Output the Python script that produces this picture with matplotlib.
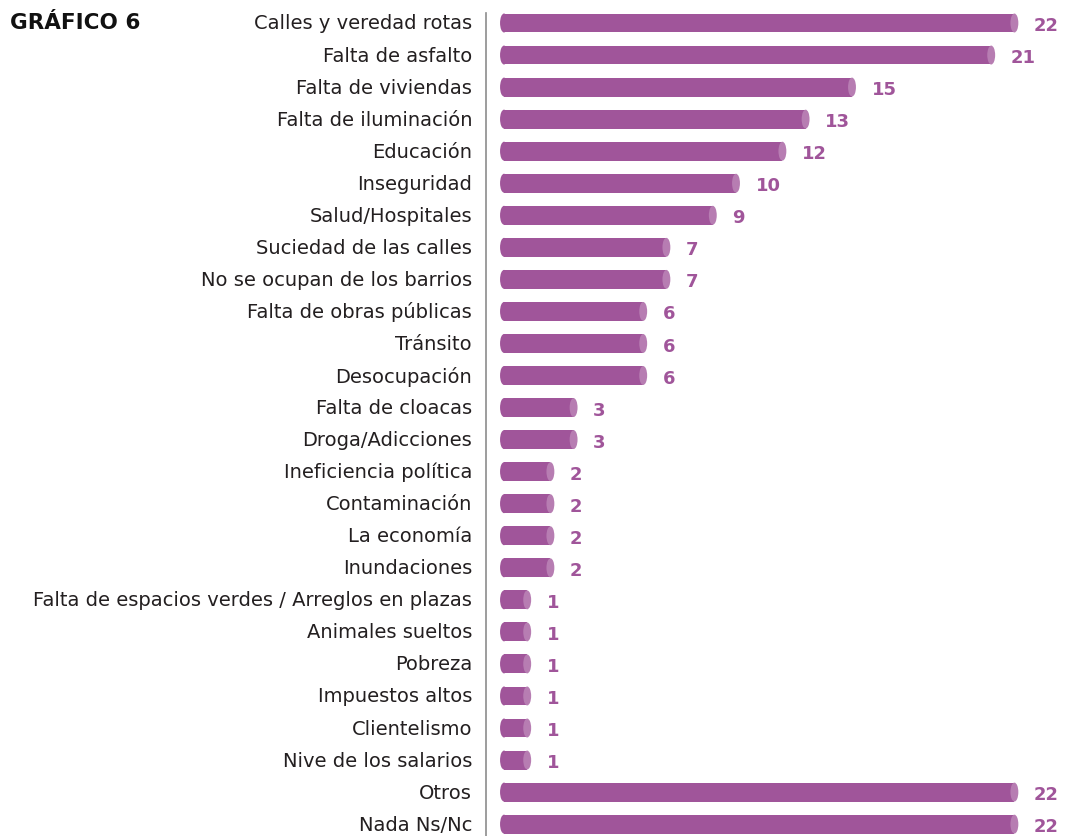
import matplotlib
matplotlib.use('Agg')
import matplotlib.pyplot as plt
from matplotlib.patches import Ellipse

plt.rcParams['font.family'] = ['DejaVu Sans']

# categories and values (%), top to bottom
categories = [
    'Calles y veredad rotas', 'Falta de asfalto', 'Falta de viviendas',
    'Falta de iluminación', 'Educación', 'Inseguridad', 'Salud/Hospitales',
    'Suciedad de las calles', 'No se ocupan de los barrios',
    'Falta de obras públicas', 'Tránsito', 'Desocupación', 'Falta de cloacas',
    'Droga/Adicciones', 'Ineficiencia política', 'Contaminación',
    'La economía', 'Inundaciones',
    'Falta de espacios verdes / Arreglos en plazas', 'Animales sueltos',
    'Pobreza', 'Impuestos altos', 'Clientelismo', 'Nive de los salarios',
    'Otros', 'Nada Ns/Nc',
]
values = [22, 21, 15, 13, 12, 10, 9, 7, 7, 6, 6, 6, 3, 3, 2, 2, 2, 2,
          1, 1, 1, 1, 1, 1, 22, 22]

bar_color = '#a0559a'
cap_color = '#b77db2'
text_color = '#231f20'

W, H = 1065, 837
fig = plt.figure(figsize=(W / 100, H / 100), dpi=100)
ax = fig.add_axes([486 / W, 0, 1 - 486 / W, 1 - 14 / H])

bar_h = 0.59
cap_w = 0.34
ypos = list(range(len(categories)))

ax.barh(ypos, values, height=bar_h, color=bar_color, linewidth=0, zorder=2)
for y, v in zip(ypos, values):
    # rounded left end and lighter right end of each cylinder
    ax.add_patch(Ellipse((0, y), cap_w, bar_h, color=bar_color, lw=0, zorder=2))
    ax.add_patch(Ellipse((v, y), cap_w, bar_h, color=cap_color, lw=0, zorder=3))
    ax.annotate(str(v), (v, y), xytext=(14, -1.5), textcoords='offset points',
                ha='left', va='center', fontsize=13, fontweight='bold',
                color=bar_color)

px_per_unit = 23.2
ax.set_xlim(-18 / px_per_unit, -18 / px_per_unit + (W - 486) / px_per_unit)
ax.set_ylim(25.37, -0.312)
ax.set_yticks(ypos)
ax.set_yticklabels(categories, fontsize=14, color=text_color, va='center')
ax.tick_params(axis='y', length=0, pad=10)
ax.set_xticks([])
for side in ['top', 'right', 'bottom']:
    ax.spines[side].set_visible(False)
ax.spines['left'].set_color('#8c8c8c')
ax.spines['left'].set_linewidth(1.2)

fig.text(10 / W, 1 - 23 / H, 'GRÁFICO 6', fontsize=15.5, fontweight='bold',
         color='#111111', ha='left', va='center')

fig.savefig('out.png', dpi=100)
